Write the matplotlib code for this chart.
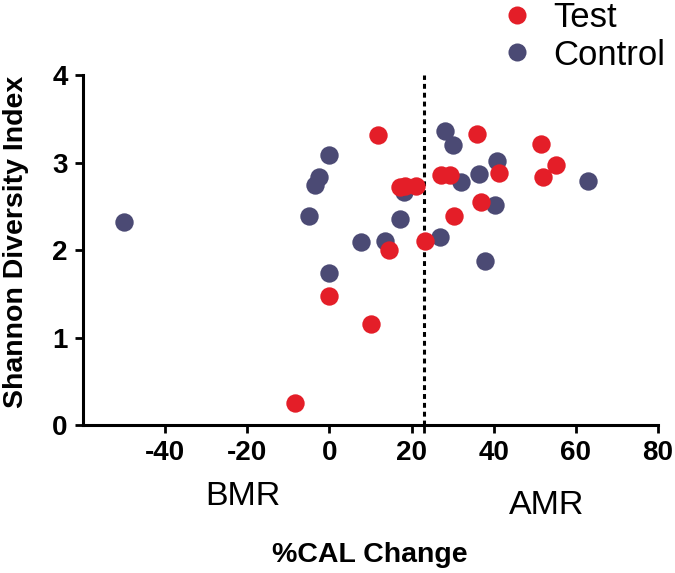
import matplotlib
matplotlib.use('Agg')
import matplotlib.pyplot as plt
from matplotlib.lines import Line2D

# % CAL change vs Shannon diversity
test_x = [11.8, 36.0, 51.5, 55.1, 51.9, 41.4, 27.2, 29.3, 17.1, 18.4, 21.0,
          37.0, 30.4, 14.4, 23.2, 0.0, 10.1, -8.3]
test_y = [3.31, 3.33, 3.21, 2.97, 2.84, 2.88, 2.86, 2.86, 2.72, 2.73, 2.73,
          2.55, 2.39, 2.00, 2.10, 1.47, 1.15, 0.25]

control_x = [28.1, 30.1, 40.7, 36.5, 32.0, 62.9, 40.2, 18.1, 17.2, 13.6, 7.7,
             27.0, 37.8, 0.0, -2.6, -3.5, -5.0, 0.0, -50.0]
control_y = [3.36, 3.20, 3.02, 2.87, 2.78, 2.79, 2.52, 2.66, 2.35, 2.10, 2.09,
             2.15, 1.87, 3.09, 2.84, 2.74, 2.39, 1.74, 2.32]

cutoff = 23.0
x_ticks = [-40, -20, 0, 20, 40, 60, 80]
y_ticks = [0, 1, 2, 3, 4]

RED = '#e41e28'
NAVY = '#4b4a74'

plt.rcParams['font.family'] = ['Liberation Sans', 'DejaVu Sans']
plt.rcParams['axes.unicode_minus'] = False

fig = plt.figure(figsize=(6.75, 5.73), dpi=100)
ax = fig.add_axes([0.123, 0.2583, 0.8518, 0.6107])

ax.scatter(control_x, control_y, s=175, color=NAVY, linewidths=0, zorder=3, clip_on=False)
ax.scatter(test_x, test_y, s=175, color=RED, linewidths=0, zorder=4, clip_on=False)

ax.plot([cutoff, cutoff], [0, 4], color='black', lw=2.2,
        linestyle=(0, (1.6, 1.3)), zorder=2, clip_on=False)

ax.set_xlim(-60, 80)
ax.set_ylim(0, 4)
ax.set_xticks(x_ticks)
ax.set_xticks([cutoff], minor=True)
ax.set_yticks(y_ticks)

for side in ['top', 'right']:
    ax.spines[side].set_visible(False)
for side in ['left', 'bottom']:
    ax.spines[side].set_linewidth(2.2)

ax.tick_params(axis='both', which='both', length=6, width=2, labelsize=20, pad=5)
for lab in ax.get_xticklabels() + ax.get_yticklabels():
    lab.set_fontweight('bold')

fig.text(0.024, 0.578, 'Shannon Diversity Index', rotation=90, ha='center',
         va='center', fontsize=20.5, fontweight='bold')
fig.text(0.548, 0.031, '%CAL Change', ha='center', va='center',
         fontsize=20.5, fontweight='bold')
fig.text(0.36, 0.134, 'BMR', ha='center', va='center', fontsize=24.5)
fig.text(0.81, 0.117, 'AMR', ha='center', va='center', fontsize=24.5)

handles = [
    Line2D([], [], marker='o', linestyle='', markersize=13, color=RED, markeredgewidth=0),
    Line2D([], [], marker='o', linestyle='', markersize=13, color=NAVY, markeredgewidth=0),
]
fig.legend(handles, ['Test', 'Control'], loc='upper right',
           bbox_to_anchor=(1.017, 1.034), frameon=False, fontsize=25,
           handletextpad=0.25, labelspacing=0.12, borderaxespad=0.2,
           handlelength=1.6)

fig.savefig('out.png', dpi=100)
